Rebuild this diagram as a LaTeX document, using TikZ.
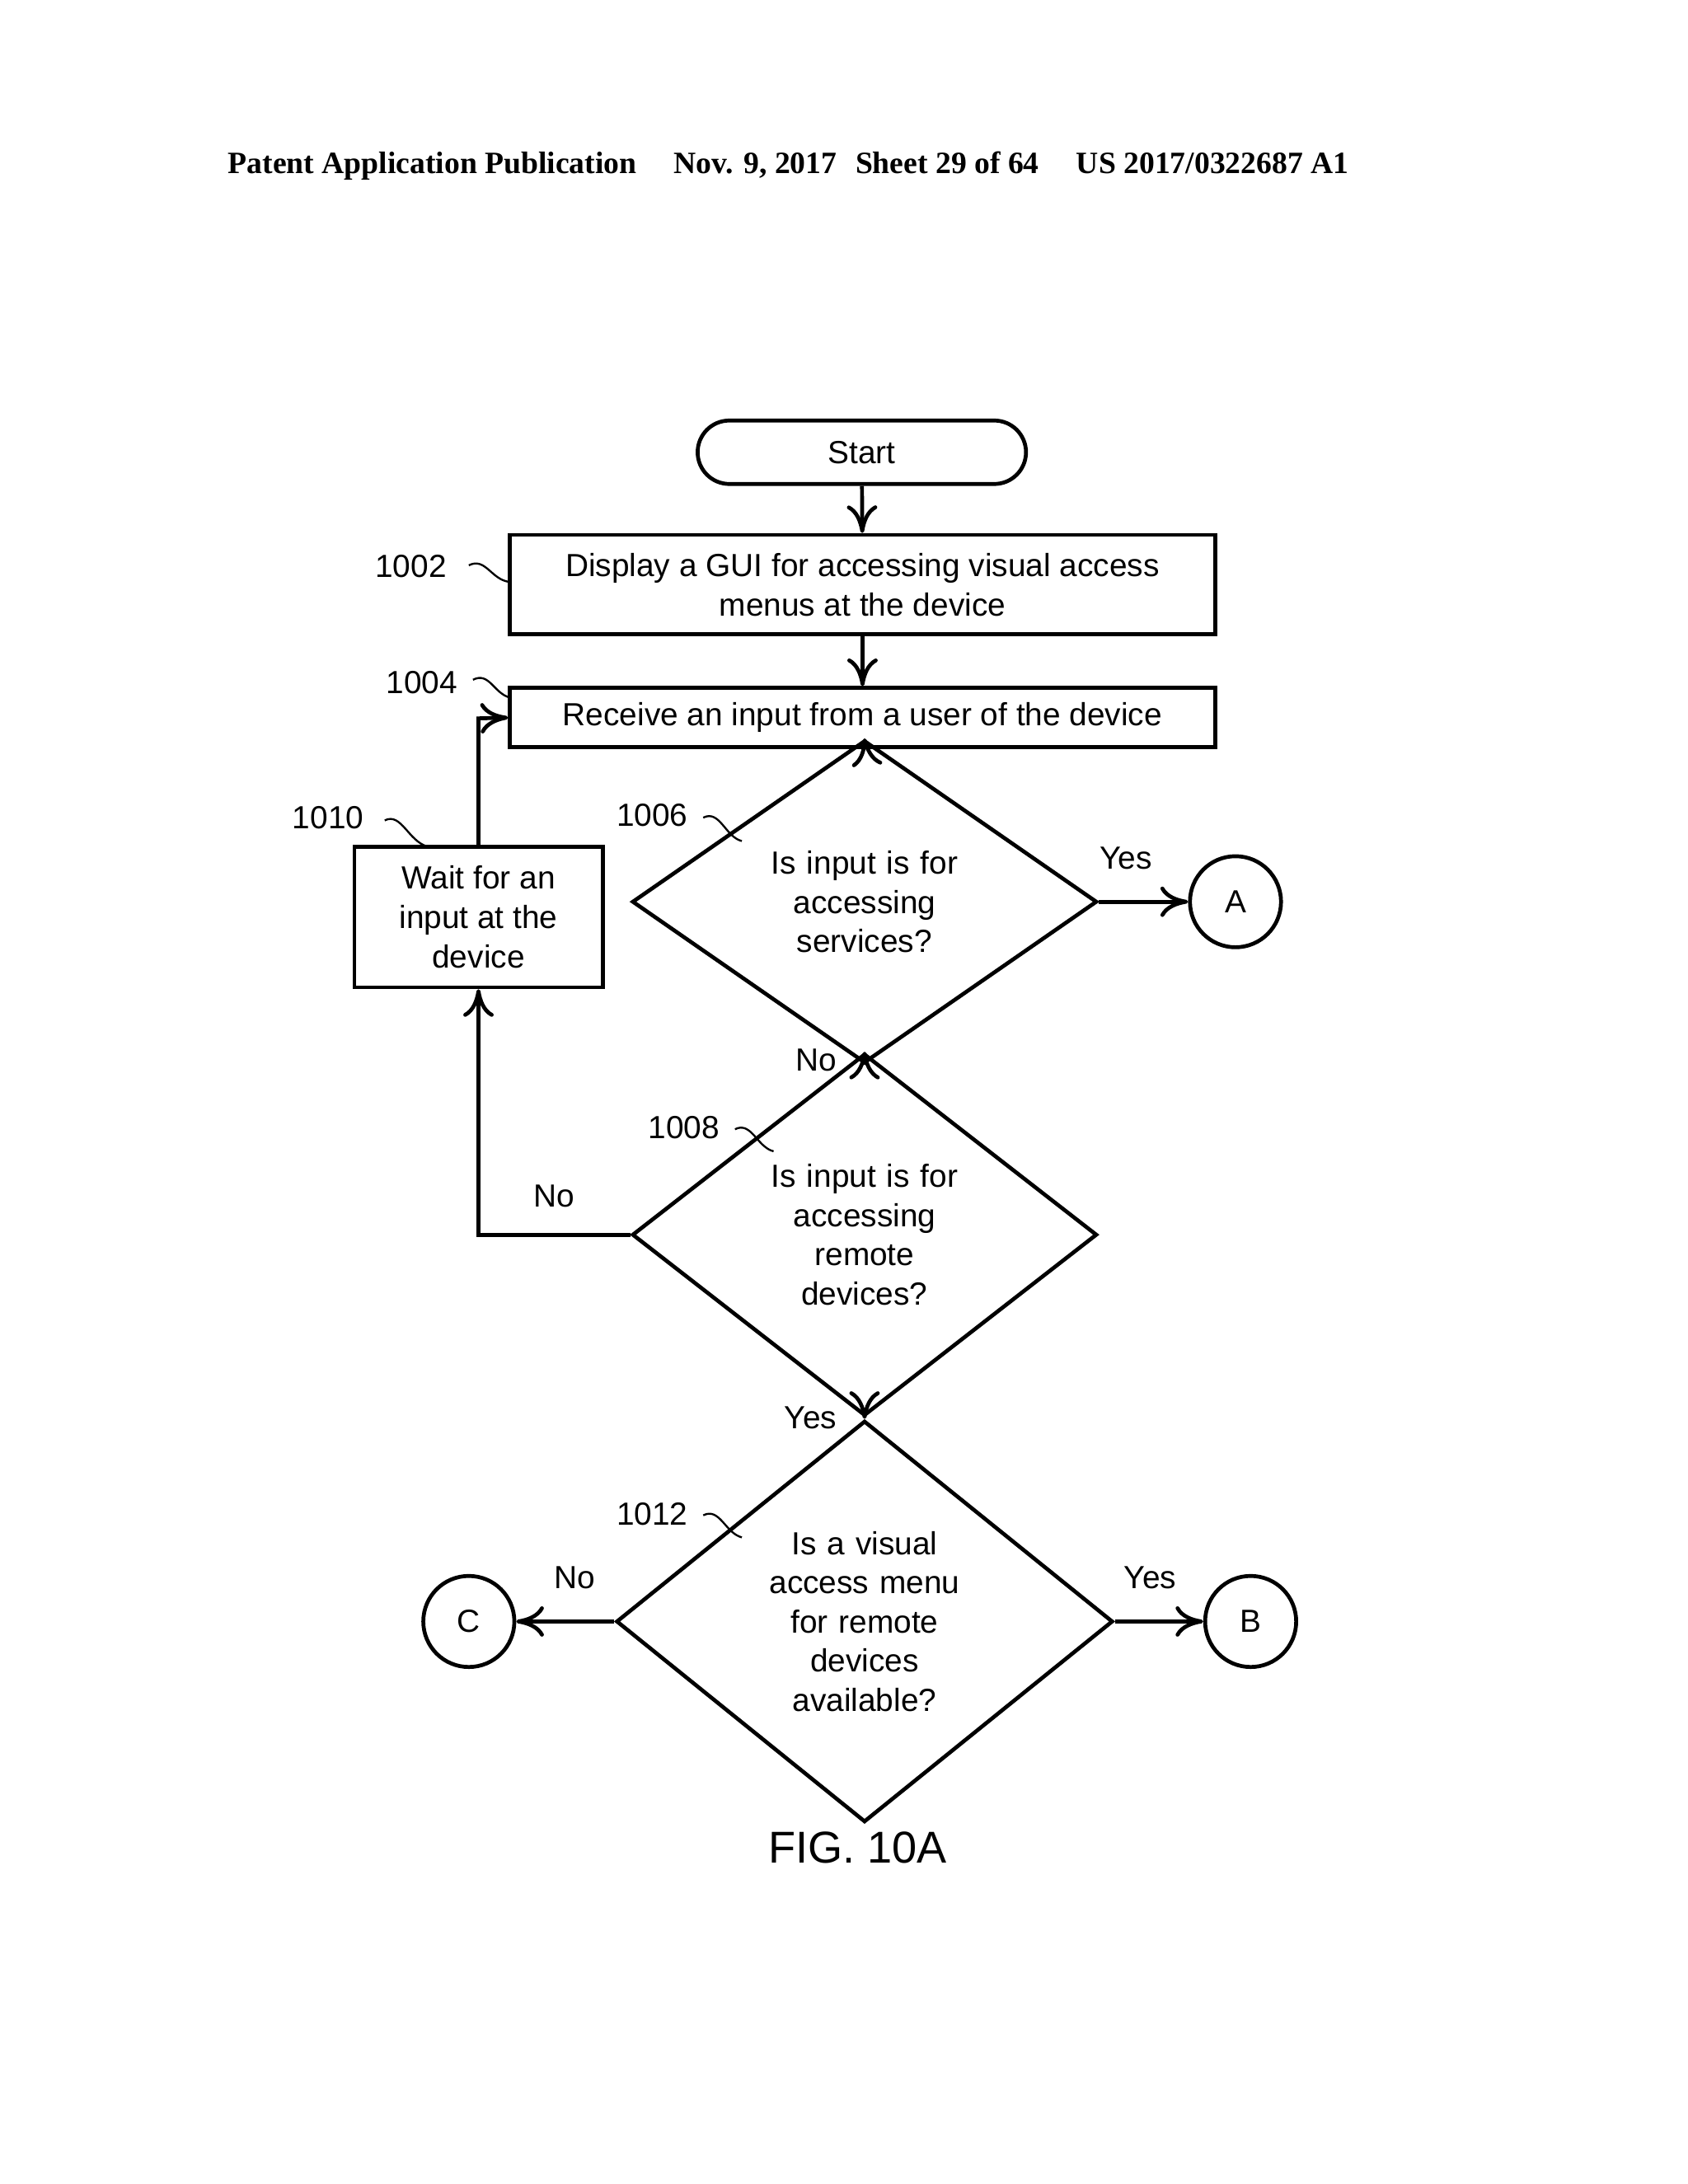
\documentclass[tikz,border=0pt]{standalone}
\usepackage{fontspec}
\setmainfont{Liberation Sans}
\newfontfamily\hdrfont{Liberation Serif}
\usetikzlibrary{shapes.geometric,arrows.meta,positioning}

\tikzset{
  box/.style={draw, thick, rectangle, align=center, inner sep=0pt},
  dia/.style={draw, thick, diamond, align=center, inner sep=0pt, text width=1.6cm},
  conn/.style={draw, thick, circle, minimum size=0.66cm, inner sep=0pt},
  line/.style={draw, thick, -{To[length=2mm,width=2.2mm]}},
  refno/.style={inner sep=1pt},
  squig/.style={draw, thin},
}

\begin{document}
\begin{tikzpicture}[x=0.01cm, y=-0.01cm, font=\fontsize{6.6}{8.1}\selectfont]
  \useasboundingbox (0,0) rectangle (1224,1584);

  % header
  \node[font=\hdrfont\bfseries\fontsize{6.4}{7.6}\selectfont, anchor=west] at (153,120)
    {Patent Application Publication\hspace{1.2em}Nov. 9, 2017\hspace{0.6em}Sheet 29 of 64\hspace{1.2em}US 2017/0322687 A1};

  % shapes
  \node[box, rounded corners=0.23cm, minimum width=2.38cm, minimum height=0.46cm] (start) at (625,328) {Start};
  \node[box, minimum width=5.11cm, minimum height=0.72cm] (s1002) at (625.5,424) {Display a GUI for accessing visual access\\menus at the device};
  \node[box, minimum width=5.11cm, minimum height=0.43cm] (s1004) at (625.5,520.5) {Receive an input from a user of the device};
  \node[dia, minimum width=3.37cm, minimum height=1.68cm] (s1006) at (627,654) {Is input is for\\accessing\\services?};
  \node[box, minimum width=1.80cm, minimum height=1.02cm] (s1010) at (347,665) {Wait for an\\input at the\\device};
  \node[dia, minimum width=3.37cm, minimum height=2.01cm] (s1008) at (627,895.5) {Is input is for\\accessing\\remote\\devices?};
  \node[dia, minimum width=3.60cm, minimum height=2.46cm] (s1012) at (627,1176) {Is a visual\\access menu\\for remote\\devices\\available?};
  \node[conn] (conA) at (896,654) {A};
  \node[conn] (conB) at (907,1176) {B};
  \node[conn] (conC) at (340,1176) {C};

  % connectors
  \path[line] (start) -- (s1002);
  \path[line] (s1002) -- (s1004);
  \path[line] (s1004) -- (s1006.north);
  \path[line] (s1006.east) -- node[above=3pt, pos=0.3] {Yes} (conA);
  \path[line] (s1006.south) -- node[left=2pt, pos=0.4] {No} (s1008.north);
  \path[line] (s1008.west) -| node[above=2pt, pos=0.25] {No} (s1010.south);
  \coordinate (loop) at (347,521);
  \path[line] (s1010.north) -- (loop) -- (s1004.west);
  \path[line] (s1008.south) -- node[left=2pt, pos=0.4] {Yes} (s1012.north);
  \path[line] (s1012.west) -- node[above=3pt, pos=0.4] {No} (conC);
  \path[line] (s1012.east) -- node[above=3pt, pos=0.4] {Yes} (conB);

  % reference numerals
  \node[refno] (n1002) at (298,411) {1002};
  \node[refno] (n1004) at (306,495) {1004};
  \node[refno] (n1006) at (473,591) {1006};
  \node[refno] (n1008) at (496,818) {1008};
  \node[refno] (n1010) at (238,593) {1010};
  \node[refno] (n1012) at (473,1098) {1012};
  \draw[squig] (340,410) .. controls (352,404) and (356,420) .. (369,422);
  \draw[squig] (343,493) .. controls (355,487) and (358,503) .. (370,506);
  \draw[squig] (510,593) .. controls (522,587) and (526,607) .. (538,610);
  \draw[squig] (533,819) .. controls (545,813) and (549,832) .. (561,835);
  \draw[squig] (279,595) .. controls (291,589) and (296,610) .. (310,614);
  \draw[squig] (510,1099) .. controls (522,1093) and (526,1112) .. (538,1115);

  \node[font=\fontsize{9.2}{11}\selectfont] (fig) at (622,1340) {FIG. 10A};
\end{tikzpicture}
\end{document}
